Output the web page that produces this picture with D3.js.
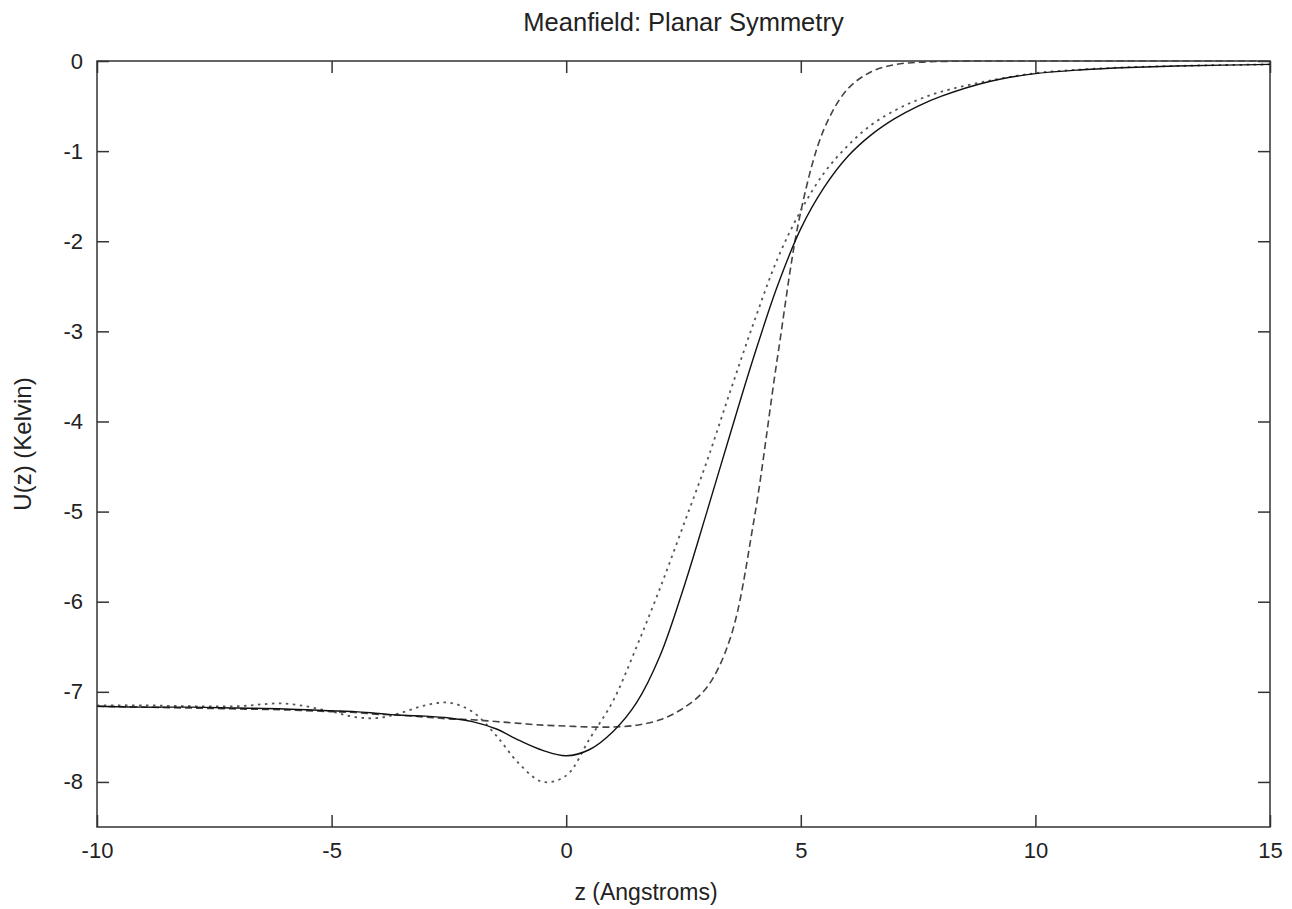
<!DOCTYPE html>
<html>
<head>
<meta charset="utf-8">
<script src="https://cdn.jsdelivr.net/npm/d3@7"></script>
<style>
  body { margin: 0; background: #fff; }
  svg text { font-family: "Liberation Sans", Arial, sans-serif; fill: #222; }
</style>
</head>
<body>
<svg id="chart" width="1292" height="909"></svg>
<script>
// =========================
// DATI
// =========================
const zValues = [-10, -9, -8, -7, -6, -5, -4.5, -4, -3.5, -3, -2.5, -2, -1.5, -1, -0.5, 0,
  0.5, 1, 1.5, 2, 2.5, 3, 3.5, 4, 4.5, 5, 5.5, 6, 6.5, 7, 7.5, 8, 9, 10, 11, 12, 13, 14, 15];

// curva continua
const solidU = [-7.16, -7.17, -7.17, -7.18, -7.19, -7.21, -7.22, -7.24, -7.26, -7.27, -7.29, -7.33,
  -7.41, -7.54, -7.65, -7.71, -7.64, -7.44, -7.12, -6.6, -5.85, -5.0, -4.13, -3.28, -2.5, -1.86,
  -1.4, -1.06, -0.82, -0.64, -0.5, -0.39, -0.23, -0.14, -0.097, -0.072, -0.056, -0.046, -0.038];

// curva a puntini
const dottedU = [-7.15, -7.15, -7.16, -7.16, -7.13, -7.22, -7.28, -7.29, -7.23, -7.15, -7.12, -7.22,
  -7.48, -7.8, -8.0, -7.93, -7.52, -7.1, -6.5, -5.85, -5.15, -4.44, -3.66, -2.9, -2.2, -1.66,
  -1.24, -0.94, -0.71, -0.55, -0.43, -0.34, -0.22, -0.135, -0.094, -0.069, -0.055, -0.045, -0.038];

// curva tratteggiata
const dashedU = [-7.16, -7.17, -7.18, -7.19, -7.2, -7.22, -7.23, -7.25, -7.26, -7.28, -7.3, -7.31,
  -7.33, -7.35, -7.37, -7.38, -7.39, -7.39, -7.37, -7.31, -7.18, -6.95, -6.4, -5.1, -3.3, -1.67,
  -0.75, -0.31, -0.12, -0.04, -0.015, -0.005, 0, 0, 0, 0, 0, 0, 0];

const xTicks = [-10, -5, 0, 5, 10, 15];
const yTicks = [0, -1, -2, -3, -4, -5, -6, -7, -8];

// =========================
// SCALE E ASSI
// =========================
const svg = d3.select("#chart");
const margin = { left: 97, right: 22, top: 61, bottom: 82 };
const width = 1292 - margin.left - margin.right;
const height = 909 - margin.top - margin.bottom;

const x = d3.scaleLinear().domain([-10, 15]).range([0, width]);
const y = d3.scaleLinear().domain([-8.5, 0]).range([height, 0]);

const g = svg.append("g").attr("transform", `translate(${margin.left},${margin.top})`);

const tickLen = 12;
const plain = d => String(d); // trattino normale, non il segno meno unicode

function styleAxis(sel) {
  sel.select(".domain").remove();
  sel.selectAll("line").attr("stroke", "#333").attr("stroke-width", 1.5);
  sel.selectAll("text").attr("font-size", 22);
}

g.append("g")
  .attr("transform", `translate(0,${height})`)
  .call(d3.axisBottom(x).tickValues(xTicks).tickSize(-tickLen).tickPadding(11).tickFormat(plain))
  .call(styleAxis)
  .selectAll("text").attr("dy", "0.9em");

g.append("g")
  .call(d3.axisTop(x).tickValues(xTicks).tickSize(-tickLen).tickFormat(""))
  .call(styleAxis);

g.append("g")
  .call(d3.axisLeft(y).tickValues(yTicks).tickSize(-tickLen).tickPadding(14).tickFormat(plain))
  .call(styleAxis);

g.append("g")
  .attr("transform", `translate(${width},0)`)
  .call(d3.axisRight(y).tickValues(yTicks).tickSize(-tickLen).tickFormat(""))
  .call(styleAxis);

// cornice
g.append("rect")
  .attr("width", width)
  .attr("height", height)
  .attr("fill", "none")
  .attr("stroke", "#333")
  .attr("stroke-width", 1.5);

// =========================
// CURVE
// =========================
const series = [
  { values: dashedU, color: "#444", dash: "7,4", w: 1.6 },
  { values: dottedU, color: "#555", dash: "2.5,4.5", w: 1.8 },
  { values: solidU, color: "#111", dash: null, w: 1.4 }
];

const line = d3.line()
  .x(d => x(d[0]))
  .y(d => y(d[1]))
  .curve(d3.curveCatmullRom.alpha(0.5));

series.forEach(s => {
  g.append("path")
    .datum(zValues.map((z, i) => [z, s.values[i]]))
    .attr("fill", "none")
    .attr("stroke", s.color)
    .attr("stroke-width", s.w)
    .attr("stroke-dasharray", s.dash)
    .attr("d", line);
});

// =========================
// TESTI
// =========================
svg.append("text")
  .attr("x", margin.left + width / 2)
  .attr("y", 31)
  .attr("text-anchor", "middle")
  .attr("font-size", 25.5)
  .text("Meanfield: Planar Symmetry");

svg.append("text")
  .attr("x", 646)
  .attr("y", 900)
  .attr("text-anchor", "middle")
  .attr("font-size", 23)
  .text("z (Angstroms)");

svg.append("text")
  .attr("transform", `translate(31,${margin.top + height / 2}) rotate(-90)`)
  .attr("text-anchor", "middle")
  .attr("font-size", 24)
  .text("U(z) (Kelvin)");
</script>
</body>
</html>
